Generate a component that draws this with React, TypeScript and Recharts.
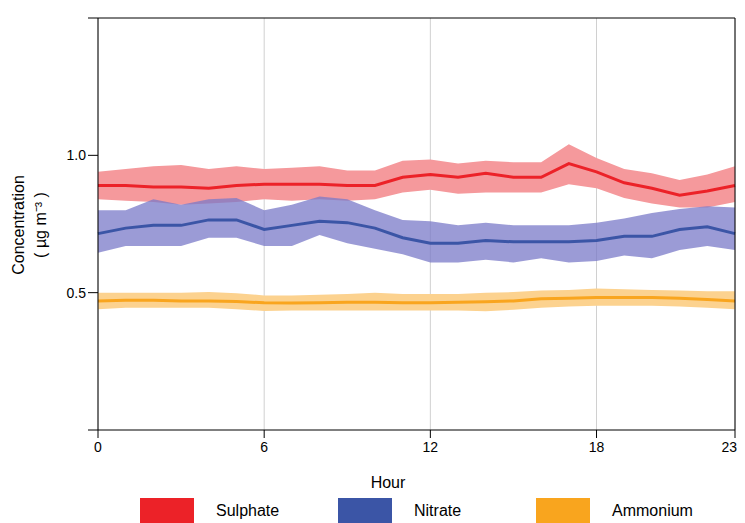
import type { FC } from "react";
import { Area, CartesianGrid, ComposedChart, Line, XAxis, YAxis } from "recharts";

const hours = Array.from({ length: 24 }, (_, i) => i);

const sulphateMean = [0.89, 0.89, 0.885, 0.885, 0.88, 0.89, 0.895, 0.895, 0.895, 0.89, 0.89, 0.92, 0.93, 0.92, 0.935, 0.92, 0.92, 0.97, 0.94, 0.9, 0.88, 0.855, 0.87, 0.89];
const sulphateHigh = [0.94, 0.95, 0.96, 0.965, 0.95, 0.96, 0.95, 0.955, 0.96, 0.945, 0.945, 0.98, 0.985, 0.97, 0.98, 0.975, 0.975, 1.04, 0.99, 0.95, 0.935, 0.91, 0.93, 0.96];
const sulphateLow = [0.84, 0.835, 0.83, 0.82, 0.825, 0.83, 0.84, 0.835, 0.84, 0.835, 0.84, 0.865, 0.875, 0.86, 0.865, 0.865, 0.865, 0.895, 0.88, 0.845, 0.825, 0.81, 0.81, 0.83];

const nitrateMean = [0.715, 0.735, 0.745, 0.745, 0.765, 0.765, 0.73, 0.745, 0.76, 0.755, 0.735, 0.7, 0.68, 0.68, 0.69, 0.685, 0.685, 0.685, 0.69, 0.705, 0.705, 0.73, 0.74, 0.715];
const nitrateHigh = [0.8, 0.8, 0.84, 0.82, 0.84, 0.845, 0.8, 0.82, 0.85, 0.84, 0.8, 0.765, 0.76, 0.745, 0.755, 0.745, 0.745, 0.745, 0.755, 0.77, 0.79, 0.805, 0.815, 0.81];
const nitrateLow = [0.645, 0.67, 0.67, 0.67, 0.7, 0.7, 0.67, 0.67, 0.71, 0.68, 0.66, 0.64, 0.61, 0.61, 0.62, 0.61, 0.625, 0.61, 0.615, 0.635, 0.625, 0.655, 0.67, 0.655];

const ammoniumMean = [0.47, 0.472, 0.472, 0.47, 0.47, 0.468, 0.463, 0.462, 0.463, 0.465, 0.465, 0.463, 0.463, 0.465, 0.467, 0.47, 0.478, 0.48, 0.482, 0.482, 0.482, 0.48, 0.475, 0.47];
const ammoniumHigh = [0.5, 0.5, 0.5, 0.5, 0.502, 0.498, 0.49, 0.49, 0.492, 0.495, 0.5, 0.495, 0.495, 0.495, 0.5, 0.502, 0.508, 0.51, 0.515, 0.512, 0.51, 0.508, 0.505, 0.505];
const ammoniumLow = [0.44, 0.445, 0.445, 0.445, 0.445, 0.44, 0.433, 0.435, 0.435, 0.435, 0.435, 0.435, 0.435, 0.435, 0.432, 0.438, 0.445, 0.45, 0.452, 0.452, 0.452, 0.45, 0.445, 0.44];

const xTicks = [0, 6, 12, 18, 23];
const yTicks = [0, 0.5, 1.0, 1.5];

const data = hours.map((h, i) => ({
	hour: h,
	s: sulphateMean[i],
	sBand: [sulphateLow[i], sulphateHigh[i]],
	n: nitrateMean[i],
	nBand: [nitrateLow[i], nitrateHigh[i]],
	a: ammoniumMean[i],
	aBand: [ammoniumLow[i], ammoniumHigh[i]],
}));

const legend = [
	{ name: "Sulphate", color: "#ec2228" },
	{ name: "Nitrate", color: "#3b55a6" },
	{ name: "Ammonium", color: "#f9a51e" },
];

const font = "'Liberation Sans', Arial, sans-serif";

const HourTick = (props: any) => {
	const { x, y, payload } = props;
	const last = payload.value === 23;
	return (
		<text x={last ? x + 2 : x} y={y + 12} textAnchor={last ? "end" : "middle"} fontSize={14} fontFamily={font} fill="#000">
			{payload.value}
		</text>
	);
};

const App: FC = () => {
	return (
		<div style={{ position: "relative", width: 737, height: 515, fontFamily: font }}>
			<ComposedChart width={737} height={452} data={data} margin={{ top: 0, right: 0, bottom: 0, left: 0 }}>
				<CartesianGrid xAxisId="b" yAxisId="l" horizontal={false} stroke="#d0d0d0" />
				<XAxis xAxisId="b" dataKey="hour" type="number" domain={[0, 23]} ticks={xTicks} height={30} stroke="#000" tickSize={8} tick={<HourTick />} />
				<XAxis xAxisId="t" orientation="top" dataKey="hour" type="number" domain={[0, 23]} ticks={xTicks} height={10} stroke="#000" tickSize={10} tick={false} />
				<YAxis yAxisId="l" domain={[0, 1.5]} ticks={yTicks} width={90} stroke="#000" tickSize={10}
					tickFormatter={(v: number) => (v === 0.5 || v === 1 ? v.toFixed(1) : "")}
					tick={{ fill: "#000", fontSize: 14, fontFamily: font }}
					label={{
						content: () => (
							<g fontFamily={font} fontSize={16} fill="#000">
								<text x={10} y={217} transform="rotate(-90 10 217)" textAnchor="middle" dominantBaseline="central">Concentration</text>
								<text x={32} y={217} transform="rotate(-90 32 217)" textAnchor="middle" dominantBaseline="central">( µg m⁻³ )</text>
							</g>
						),
					}}
				/>
				<YAxis yAxisId="r" orientation="right" domain={[0, 1.5]} ticks={yTicks} width={10} stroke="#000" tickSize={10} tick={false} />
				<Area xAxisId="b" yAxisId="l" type="linear" dataKey="sBand" fill="#f5999c" fillOpacity={1} stroke="none" isAnimationActive={false} />
				<Area xAxisId="b" yAxisId="l" type="linear" dataKey="nBand" fill="#7a7ac8" fillOpacity={0.75} stroke="none" isAnimationActive={false} />
				<Area xAxisId="b" yAxisId="l" type="linear" dataKey="aBand" fill="#fcd28f" fillOpacity={1} stroke="none" isAnimationActive={false} />
				<Line xAxisId="b" yAxisId="l" type="linear" dataKey="s" stroke="#ec2228" strokeWidth={3} dot={false} isAnimationActive={false} />
				<Line xAxisId="b" yAxisId="l" type="linear" dataKey="n" stroke="#3b55a6" strokeWidth={3} dot={false} isAnimationActive={false} />
				<Line xAxisId="b" yAxisId="l" type="linear" dataKey="a" stroke="#f9a51e" strokeWidth={3} dot={false} isAnimationActive={false} />
			</ComposedChart>
			<div style={{ position: "absolute", left: 380, top: 466, fontSize: 16, transform: "translateX(-50%)" }}>Hour</div>
			<div style={{ position: "absolute", left: 132, top: 490, display: "flex", fontSize: 16 }}>
				{legend.map((l) => (
					<div key={l.name} style={{ display: "flex", alignItems: "center", width: 198 }}>
						<div style={{ width: 54, height: 26, background: l.color, marginRight: 22 }} />
						<span>{l.name}</span>
					</div>
				))}
			</div>
		</div>
	);
};

export default App;
